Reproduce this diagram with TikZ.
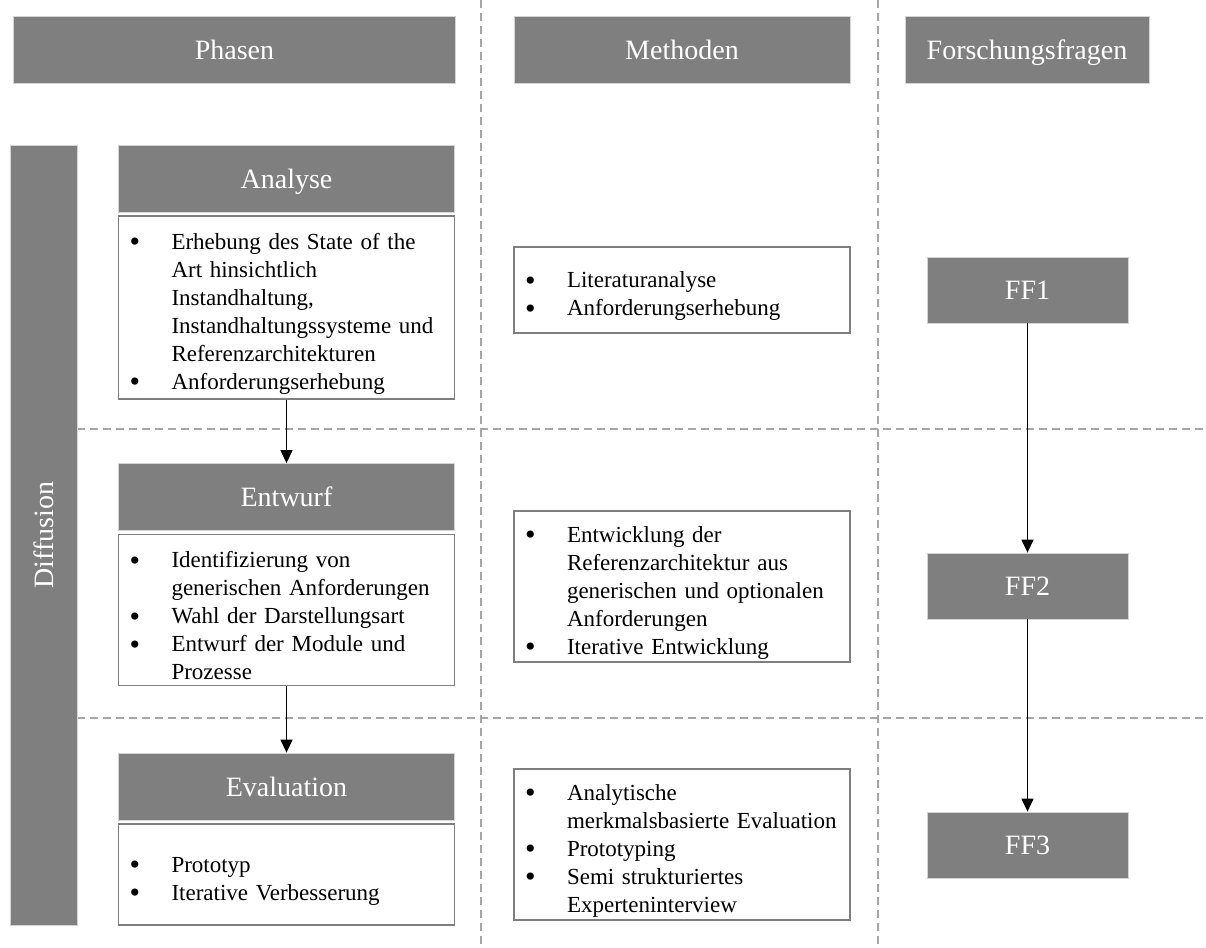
\documentclass[tikz,border=0pt]{standalone}
\usepackage{fontspec}
\setmainfont{Liberation Serif}
\usetikzlibrary{arrows.meta,positioning}

\definecolor{boxgray}{HTML}{7F7F7F}
\definecolor{edgegray}{HTML}{D4D4D4}
\definecolor{sepgray}{HTML}{A6A6A6}

% one bullet point with hanging text
\newcommand{\bul}[1]{\par\raggedright\noindent\hangindent=21pt\hangafter=1\hbox to 21pt{\raisebox{-1.3pt}{\fontsize{15}{14}\selectfont\textbullet}\hfil}#1\par}

\begin{document}
\begin{tikzpicture}[x=0.5pt,y=-0.5pt]
            \tikzstyle{head}=[fill=boxgray, draw=edgegray, line width=0.4pt, text=white, font=\fontsize{14}{16}\selectfont, minimum height=33.5pt, inner sep=0pt, text height=9.6pt, text depth=0pt];
            \tikzstyle{body}=[draw=boxgray, line width=0.6pt, font=\fontsize{11.5}{14}\selectfont, inner xsep=5.5pt, inner ysep=0pt, text width=157pt];
            \tikzstyle{ffbox}=[head, minimum width=100.5pt, minimum height=33pt];
            \tikzstyle{sep}=[draw=sepgray, line width=0.6pt, dash pattern=on 4pt off 2.5pt];
            \tikzstyle{arr}=[draw=black, line width=0.6pt, -{Triangle[width=6pt,length=6.5pt]}];
            \useasboundingbox (0,0) rectangle (1206,948);

            % separators
            \coordinate (col1top) at (481,0);
            \coordinate (col1bot) at (481,946);
            \coordinate (col2top) at (878,0);
            \coordinate (col2bot) at (878,946);
            \coordinate (row1left) at (77,429);
            \coordinate (row1right) at (1206,429);
            \coordinate (row2left) at (77,718);
            \coordinate (row2right) at (1206,718);
            \draw[sep] (col1top) -- (col1bot);
            \draw[sep] (col2top) -- (col2bot);
            \draw[sep] (row1left) -- (row1right);
            \draw[sep] (row2left) -- (row2right);

            % column heads
            \node[head, minimum width=221pt] (phasen) at (234.5,50) {Phasen};
            \node[head, minimum width=168pt] (methoden) at (682,50) {Methoden};
            \node[head, minimum width=122pt] (fragen) at (1027,50) {Forschungsfragen};

            \node[head, rotate=90, minimum width=390pt] (diffusion) at (43.5,535) {Diffusion};

            % phases
            \node[head, minimum width=168pt] (analyse) at (286.5,178.5) {Analyse};
            \node[body, minimum height=91.5pt, below=1.5pt of analyse] (analysebody) {
                \bul{Erhebung des State of the\newline Art hinsichtlich\newline Instandhaltung,\newline Instandhaltungssysteme und\newline Referenzarchitekturen}
                \bul{Anforderungserhebung}};
            \node[head, minimum width=168pt] (entwurf) at (286.5,497) {Entwurf};
            \node[body, minimum height=75.5pt, below=1.5pt of entwurf] (entwurfbody) {
                \bul{Identifizierung von\newline generischen Anforderungen}
                \bul{Wahl der Darstellungsart}
                \bul{Entwurf der Module und\newline Prozesse}};
            \node[head, minimum width=168pt] (evaluation) at (286.5,786.5) {Evaluation};
            \node[body, minimum height=50.5pt, below=1.5pt of evaluation] (evaluationbody) {
                \bul{Prototyp}
                \bul{Iterative Verbesserung}};

            % methods
            \node[body, minimum height=43pt] (methode1) at (682,290) {
                \bul{Literaturanalyse}
                \bul{Anforderungserhebung}};
            \node[body, minimum height=75.5pt] (methode2) at (682,586.5) {
                \bul{Entwicklung der\newline Referenzarchitektur aus\newline generischen und optionalen\newline Anforderungen}
                \bul{Iterative Entwicklung}};
            \node[body, minimum height=75.5pt] (methode3) at (682,844.5) {
                \bul{Analytische\newline merkmalsbasierte Evaluation}
                \bul{Prototyping}
                \bul{Semi strukturiertes\newline Experteninterview}};

            % research questions
            \node[ffbox] (ff1) at (1027.5,290) {FF1};
            \node[ffbox] (ff2) at (1027.5,586) {FF2};
            \node[ffbox] (ff3) at (1027.5,845) {FF3};

            \draw[arr] (analysebody) -- (entwurf);
            \draw[arr] (entwurfbody) -- (evaluation);
            \draw[arr] (ff1) -- (ff2);
            \draw[arr] (ff2) -- (ff3);
        \end{tikzpicture}
\end{document}
